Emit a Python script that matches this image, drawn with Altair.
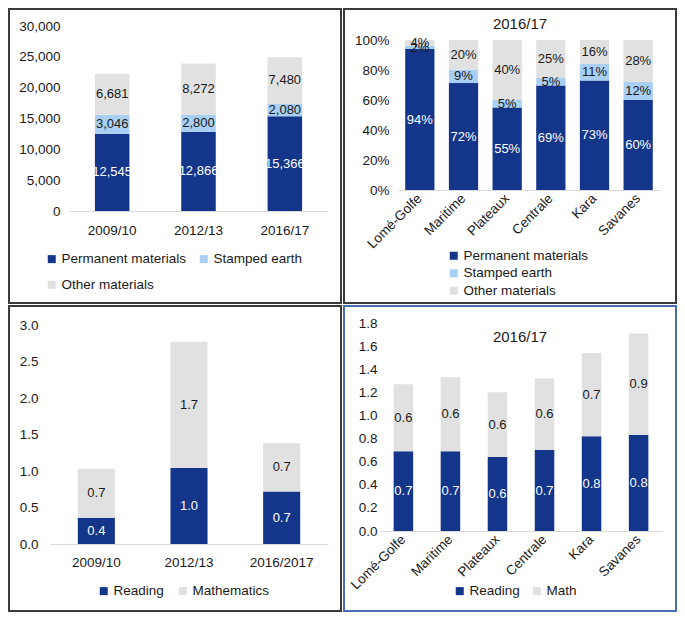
import altair as alt
import pandas as pd

FONT = "Liberation Sans"
DARK = "#14368A"
LIGHT = "#A9CFF4"
GRAY = "#E1E1E1"
INK = "#1a1a1a"
AXIS_LINE = "#D9D9D9"

# ---- Panel A: classrooms by construction material ----
years_a = ["2009/10", "2012/13", "2016/17"]
materials = ["Permanent materials", "Stamped earth", "Other materials"]
permanent = [12545, 12866, 15366]
stamped = [3046, 2800, 2080]
other = [6681, 8272, 7480]

# ---- Panel B: share by region 2016/17 ----
regions = ["Lomé-Golfe", "Maritime", "Plateaux", "Centrale", "Kara", "Savanes"]
perm_pct = [94, 72, 55, 69, 73, 60]
stamp_pct = [2, 9, 5, 5, 11, 12]
other_pct = [4, 20, 40, 25, 16, 28]

# ---- Panel C: books per pupil ----
years_c = ["2009/10", "2012/13", "2016/2017"]
subjects_c = ["Reading", "Mathematics"]
reading_c = [0.36, 1.04, 0.72]
math_c = [0.67, 1.73, 0.66]

# ---- Panel D: books per pupil by region 2016/17 ----
subjects_d = ["Reading", "Math"]
reading_d = [0.69, 0.69, 0.64, 0.70, 0.82, 0.83]
math_d = [0.58, 0.64, 0.56, 0.62, 0.72, 0.88]

panel_title = "2016/17"


def to_long(cats, names, values):
    rows = []
    for si, (name, vals) in enumerate(zip(names, values)):
        for c, v in zip(cats, vals):
            rows.append({"cat": c, "series": name, "value": v, "order": si})
    return pd.DataFrame(rows)


def panel(df, cats, names, colors, w, h, xrange, yrange, ydomain, yvalues, yfmt,
          label_expr, pad_inner, pad_outer, frame, frame_color, legend, rotate,
          ylabpad, xlabpad, normalize=False, title=None):
    x_axis = alt.Axis(
        title=None, ticks=False, tickSize=0, domainColor=AXIS_LINE, domainWidth=1,
        labelPadding=xlabpad, labelFontSize=13.5, labelColor=INK, labelFont=FONT,
        labelAngle=-45 if rotate else 0,
        **({"labelAlign": "right", "labelBaseline": "middle"} if rotate else {})
    )
    y_axis = alt.Axis(
        title=None, values=yvalues, format=yfmt, domain=False, ticks=False,
        tickSize=0, grid=False, labelPadding=ylabpad, labelFontSize=13.5,
        labelColor=INK, labelFont=FONT
    )
    xenc = alt.X("cat:N", sort=cats, axis=x_axis,
                 scale=alt.Scale(paddingInner=pad_inner, paddingOuter=pad_outer,
                                 range=xrange))
    yscale = alt.Scale(domain=ydomain, nice=False, zero=True, range=yrange)

    base = alt.Chart(df).transform_stack(
        stack="value", groupby=["cat"], as_=["v0", "v1"],
        offset="normalize" if normalize else "zero",
        sort=[alt.SortField("order", order="ascending")],
    ).transform_calculate(
        mid="(datum.v0 + datum.v1) / 2", lbl=label_expr
    )

    bars = base.mark_bar().encode(
        x=xenc,
        y=alt.Y("v0:Q", scale=yscale, axis=y_axis),
        y2="v1:Q",
        color=alt.Color("series:N", scale=alt.Scale(domain=names, range=colors),
                        legend=legend),
    )
    texts = base.mark_text(font=FONT, fontSize=13).encode(
        x=xenc,
        y=alt.Y("mid:Q", scale=yscale, axis=y_axis),
        text="lbl:N",
        color=alt.condition(alt.datum.order == 0, alt.value("white"), alt.value(INK)),
    )
    fx0, fy0, fx1, fy1 = frame
    border = alt.Chart(alt.Data(values=[{"k": 1}])).mark_rect(
        fill="transparent", stroke=frame_color, strokeWidth=2
    ).encode(x=alt.value(fx0), x2=alt.value(fx1), y=alt.value(fy0), y2=alt.value(fy1))

    layers = [border, bars, texts]
    if title is not None:
        ttext, tx, ty = title
        layers.append(
            alt.Chart(alt.Data(values=[{"t": ttext}])).mark_text(
                font=FONT, fontSize=15, color=INK, align="center", baseline="middle"
            ).encode(text="t:N", x=alt.value(tx), y=alt.value(ty))
        )
    return alt.layer(*layers).properties(width=w, height=h)


def leg(x, y, direction, columns, rowpad, colpad):
    return alt.Legend(
        title=None, orient="none", legendX=x, legendY=y, direction=direction,
        columns=columns, symbolType="square", symbolSize=64, symbolStrokeWidth=0,
        labelFontSize=13.5, labelFont=FONT, labelColor=INK, rowPadding=rowpad,
        columnPadding=colpad, labelOffset=3
    )


df_a = to_long(years_a, materials, [permanent, stamped, other])
df_b = to_long(regions, materials, [perm_pct, stamp_pct, other_pct])
df_c = to_long(years_c, subjects_c, [reading_c, math_c])
df_d = to_long(regions, subjects_d, [reading_d, math_d])

pa = panel(df_a, years_a, materials, [DARK, LIGHT, GRAY], 278, 185,
           [19, 278], [185, 0],
           [0, 30000], list(range(0, 30001, 5000)), ",.0f",
           "format(datum.value, ',')", 0.6, 0.3,
           (-41, -17, 291, 277), "#3b3b3b",
           leg(-5, 226, "horizontal", 2, 11, 10), False, -10, 12)

pb = panel(df_b, regions, materials, [DARK, LIGHT, GRAY], 280, 164,
           [18, 280], [164, 14],
           [0, 1], [0, 0.2, 0.4, 0.6, 0.8, 1.0], ".0%",
           "datum.value + '%'", 0.33, 0.165,
           (-36, -17, 296, 277), "#3b3b3b",
           leg(67, 223, "vertical", 1, 2.5, 10), True, -9, 6, normalize=True,
           title=(panel_title, 140, -2))

pc = panel(df_c, years_c, subjects_c, [DARK, GRAY], 278, 221,
           [0, 278], [221, 2],
           [0, 3], [0, 0.5, 1.0, 1.5, 2.0, 2.5, 3.0], ".1f",
           "format(datum.value, '.1f')", 0.6, 0.3,
           (-41, -17, 291, 288), "#3b3b3b",
           leg(47, 261, "horizontal", 2, 2, 12), False, 12, 11)

pd_ = panel(df_d, regions, subjects_d, [DARK, GRAY], 282, 208,
            [0, 282], [208, 0],
            [0, 1.8], [0, 0.2, 0.4, 0.6, 0.8, 1.0, 1.2, 1.4, 1.6, 1.8], ".1f",
            "format(datum.value, '.1f')", 0.585, 0.29,
            (-36, -17, 296, 288), "#4a6cb3",
            leg(73, 261, "horizontal", 2, 2, 10), True, 3, 6,
            title=(panel_title, 140, 14))

top = alt.hconcat(pa, pb, spacing=1).resolve_scale(color="independent")
bottom = alt.hconcat(pc, pd_, spacing=1).resolve_scale(color="independent")

chart = alt.vconcat(top, bottom, spacing=1).resolve_scale(
    color="independent"
).properties(padding=0).configure(font=FONT).configure_view(strokeWidth=0)

chart.save("out.html", embed_options={"renderer": "svg", "actions": False})
